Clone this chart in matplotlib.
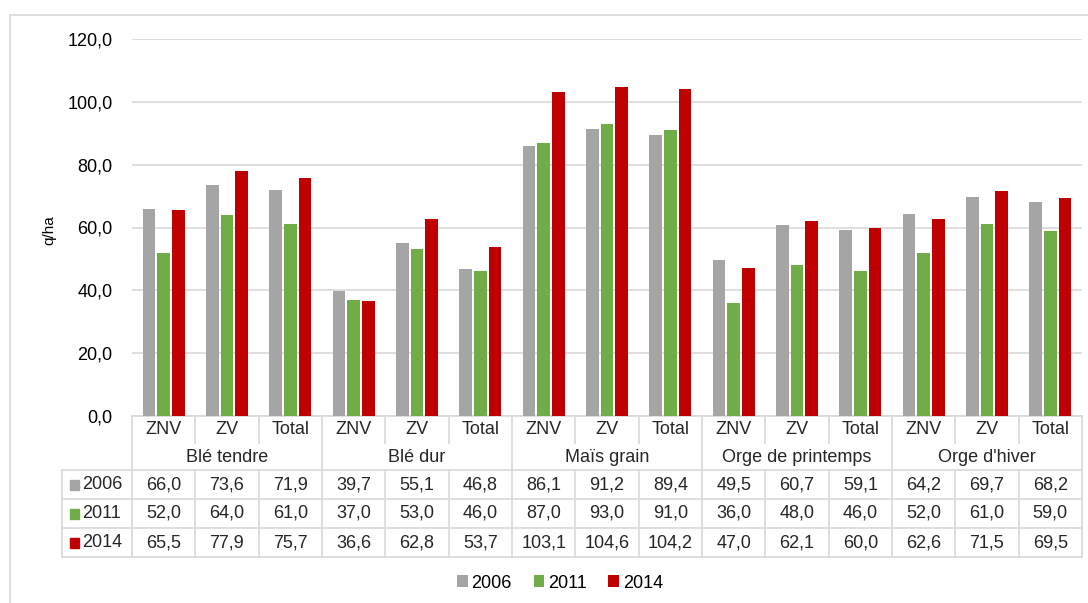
import matplotlib
matplotlib.use("Agg")
import matplotlib.pyplot as plt
import matplotlib.transforms as mtransforms
from matplotlib.patches import Patch, Rectangle
from matplotlib.lines import Line2D
import numpy as np

plt.rcParams['font.family'] = ['Liberation Sans', 'DejaVu Sans']

# data
groups = ["Blé tendre", "Blé dur", "Maïs grain", "Orge de printemps", "Orge d'hiver"]
zones = ["ZNV", "ZV", "Total"]
years = ["2006", "2011", "2014"]
v2006 = [66.0, 73.6, 71.9, 39.7, 55.1, 46.8, 86.1, 91.2, 89.4, 49.5, 60.7, 59.1, 64.2, 69.7, 68.2]
v2011 = [52.0, 64.0, 61.0, 37.0, 53.0, 46.0, 87.0, 93.0, 91.0, 36.0, 48.0, 46.0, 52.0, 61.0, 59.0]
v2014 = [65.5, 77.9, 75.7, 36.6, 62.8, 53.7, 103.1, 104.6, 104.2, 47.0, 62.1, 60.0, 62.6, 71.5, 69.5]
colors = ["#a5a5a5", "#70ad47", "#c00000"]
series = [v2006, v2011, v2014]

W, H = 1088, 603
fig = plt.figure(figsize=(W / 100, H / 100), dpi=100)

# outer chart border
fig.patches.append(Rectangle((10 / W, -0.05), 1.1, 1 - 15 / H + 0.05, transform=fig.transFigure,
                             fill=False, edgecolor="#d9d9d9", linewidth=1.2))

x0, x1, ytop, ybot = 132, 1082, 39, 416
ax = fig.add_axes([x0 / W, 1 - ybot / H, (x1 - x0) / W, (ybot - ytop) / H])

n = len(v2006)
x = np.arange(n)
offs = [-0.23, 0, 0.23]
for s, c, o in zip(series, colors, offs):
    ax.bar(x + o, s, width=0.2, color=c, zorder=3)

ax.set_xlim(-0.5, n - 0.5)
ax.set_ylim(0, 120)
ax.set_yticks(np.arange(0, 121, 20))
ax.set_yticklabels([f"{t:.1f}".replace(".", ",") for t in np.arange(0, 121, 20)], fontsize=13)
ax.tick_params(axis="y", length=0, pad=14)
ax.tick_params(axis="x", length=0, labelbottom=False)
ax.grid(axis="y", color="#d9d9d9", linewidth=1.2, zorder=0)
for sp in ["top", "right", "left"]:
    ax.spines[sp].set_visible(False)
ax.spines["bottom"].set_color("#d9d9d9")
ax.spines["bottom"].set_linewidth(1.2)
ax.set_ylabel("q/ha", fontsize=11)
ax.yaxis.set_label_coords(-76 / (x1 - x0), (ybot - 230) / (ybot - ytop))

# data table under the axes
ah = ybot - ytop
def yf(py):
    return -(py - ybot) / ah

tr = mtransforms.blended_transform_factory(ax.transData, ax.transAxes)
lc = "#d9d9d9"
lw = 1.2
def vline(xd, ya, yb, trans=tr):
    ax.add_line(Line2D([xd, xd], [yf(ya), yf(yb)], transform=trans, color=lc, lw=lw, clip_on=False))
def hline(xa, xb, py, trans=tr):
    ax.add_line(Line2D([xa, xb], [yf(py), yf(py)], transform=trans, color=lc, lw=lw, clip_on=False))

rows = [470, 499, 528, 557]
# verticals
for i in range(n + 1):
    xd = i - 0.5
    if i % 3 == 0:
        vline(xd, 416, 557)
    else:
        vline(xd, 416, 443)
        vline(xd, 470, 557)
# legend column
tra = ax.transAxes
lx = (62 - x0) / (x1 - x0)
for py in rows:
    hline(lx, 0, py, trans=tra)
ax.add_line(Line2D([lx, lx], [yf(470), yf(557)], transform=tra, color=lc, lw=lw, clip_on=False))
for py in rows:
    hline(-0.5, n - 0.5, py)

# header texts
for i in range(n):
    ax.text(i, yf(430), zones[i % 3], transform=tr, ha="center", va="center", fontsize=13, color="#262626")
for g, name in enumerate(groups):
    ax.text(g * 3 + 1, yf(457), name, transform=tr, ha="center", va="center", fontsize=13, color="#262626")
# data rows
for r, (s, c, yr) in enumerate(zip(series, colors, years)):
    yc = (rows[r] + rows[r + 1]) / 2
    for i in range(n):
        ax.text(i, yf(yc), f"{s[i]:.1f}".replace(".", ","), transform=tr, ha="center", va="center",
                fontsize=13, color="#262626")
    ax.add_patch(Rectangle(((70 - x0) / (x1 - x0), yf(yc + 5)), 9 / (x1 - x0), 10 / ah,
                           transform=tra, color=c, clip_on=False))
    ax.text((82 - x0) / (x1 - x0), yf(yc), yr, transform=tra, ha="left", va="center",
            fontsize=13, color="#262626")

# legend
handles = [Patch(facecolor=c, edgecolor="none") for c in colors]
fig.legend(handles, years, loc="center", bbox_to_anchor=(560 / W, 1 - 583 / H), ncol=3,
           frameon=False, fontsize=13, handlelength=0.6, handleheight=0.6,
           handletextpad=0.2, columnspacing=1.2)

fig.savefig("out.png", dpi=100)
